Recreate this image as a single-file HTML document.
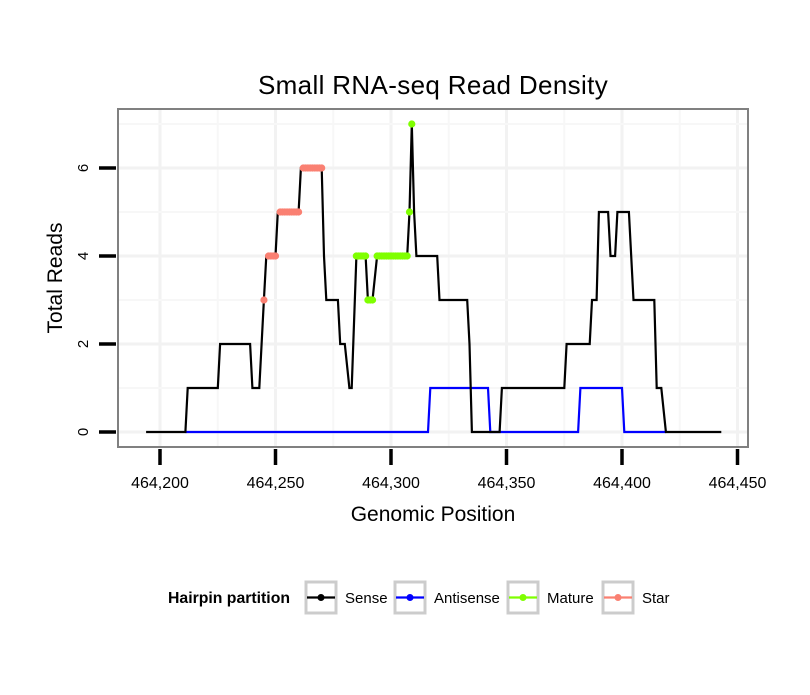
<!DOCTYPE html>
<html><head><meta charset="utf-8"><style>
body{margin:0;background:#fff;font-family:"Liberation Sans",sans-serif}
</style></head><body>
<svg id="chart" width="810" height="690" xmlns="http://www.w3.org/2000/svg" font-family="Liberation Sans, sans-serif">
<rect width="810" height="690" fill="#fff"/>
<text x="433" y="94" text-anchor="middle" font-size="26" letter-spacing="0.35">Small RNA-seq Read Density</text>
<g id="grid"></g>
<g id="series"></g>
<rect x="118" y="109" width="630" height="338" fill="none" stroke="#808080" stroke-width="2"/>
<g id="axes"></g>
<text x="433" y="521" text-anchor="middle" font-size="21">Genomic Position</text>
<text transform="translate(62,278) rotate(-90)" text-anchor="middle" font-size="21">Total Reads</text>
<g id="legend">
<text x="168" y="603" font-size="15.8" font-weight="bold">Hairpin partition</text>
</g>
</svg>
<script>
const xTicks=[464200,464250,464300,464350,464400,464450];
const yTicks=[0,2,4,6];
const senseX=[464194,464211,464212,464225,464226,464239,464240,464243,464245,464246,464250,464251,464260,464261,464270,464271,464272,464277,464278,464280,464282,464283,464285,464289,464290,464292,464294,464307,464308,464309,464310,464311,464320,464321,464333,464334,464335,464347,464348,464375,464376,464386,464387,464389,464390,464394,464395,464397,464398,464403,464405,464414,464415,464417,464419,464443];
const senseY=[0,0,1,1,2,2,1,1,3,4,4,5,5,6,6,4,3,3,2,2,1,1,4,4,3,3,4,4,5,7,5,4,4,3,3,2,0,0,1,1,2,2,3,3,5,5,4,4,5,5,3,3,1,1,0,0];
const antiX=[464211,464316,464317,464342,464343,464381,464382,464400,464401,464419];
const antiY=[0,0,1,1,0,0,1,1,0,0];
const matureX=[464285,464286,464287,464288,464289,464290,464291,464292,464294,464295,464296,464297,464298,464299,464300,464301,464302,464303,464304,464305,464306,464307,464308,464309];
const matureY=[4,4,4,4,4,3,3,3,4,4,4,4,4,4,4,4,4,4,4,4,4,4,5,7];
const starX=[464245,464247,464248,464249,464250,464252,464253,464254,464255,464256,464257,464258,464259,464260,464262,464263,464264,464265,464266,464267,464268,464269,464270];
const starY=[3,4,4,4,4,5,5,5,5,5,5,5,5,5,6,6,6,6,6,6,6,6,6];
const legendLabels=["Sense","Antisense","Mature","Star"];
const legendColors=["#000000","#0000ff","#7fff00","#fa8072"];

const NS="http://www.w3.org/2000/svg";
const sx=v=>160+(v-464200)*2.31;
const sy=v=>432-v*44;
function mk(tag,attrs,parent){const e=document.createElementNS(NS,tag);for(const k in attrs)e.setAttribute(k,attrs[k]);parent.appendChild(e);return e;}
const grid=document.getElementById('grid'),series=document.getElementById('series'),axes=document.getElementById('axes'),legend=document.getElementById('legend');
for(let i=0;i<xTicks.length;i++){
  const x=sx(xTicks[i]);
  if(x>118&&x<748){const g=mk('line',{x1:x,x2:x,y1:110,y2:446,stroke:'#f2f2f2','stroke-width':3},grid);
  
  }
  const mx=sx(xTicks[i]+25);
  if(mx>118&&mx<748){const g=mk('line',{x1:mx,x2:mx,y1:110,y2:446,stroke:'#f7f7f7','stroke-width':2},grid);
  
  }
  const m2=sx(xTicks[i]-25);
  if(i==0&&m2>118){const g=mk('line',{x1:m2,x2:m2,y1:110,y2:446,stroke:'#f7f7f7','stroke-width':2},grid);
  
  }
}
for(let v=0;v<=7;v++){
  const y=sy(v);
  const g=mk('line',{x1:119,x2:747,y1:y,y2:y,stroke:v%2==0?'#f2f2f2':'#f7f7f7','stroke-width':v%2==0?3:2},grid);
  
  
}
function line(xs,ys,color,name){
  const d=xs.map((x,i)=>(i?'L':'M')+sx(x).toFixed(1)+','+sy(ys[i]).toFixed(1)).join('');
  const p=mk('path',{d:d,fill:'none',stroke:color,'stroke-width':2.2,'stroke-linejoin':'miter'},series);
  
  
}
line(antiX,antiY,'#0000ff','antisense-line');
line(senseX,senseY,'#000000','sense-line');
function pts(xs,ys,color,name){
  for(let i=0;i<xs.length;i++){
    const c=mk('circle',{cx:sx(xs[i]),cy:sy(ys[i]),r:3.6,fill:color},series);
    
    
  }
}
pts(starX,starY,'#fa8072','star-point');
pts(matureX,matureY,'#7fff00','mature-point');
for(const t of xTicks){
  const x=sx(t);
  const l=mk('line',{x1:x,x2:x,y1:449,y2:465,stroke:'#000','stroke-width':3.5},axes);
  
  
  const tx=mk('text',{x:x,y:488,'text-anchor':'middle','font-size':16},axes);
  tx.textContent=t.toLocaleString('en-US');
  
  
}
for(const t of yTicks){
  const y=sy(t);
  const l=mk('line',{x1:99,x2:116,y1:y,y2:y,stroke:'#000','stroke-width':3.5},axes);
  
  
  const tx=mk('text',{transform:`translate(88,${y}) rotate(-90)`,'text-anchor':'middle','font-size':15},axes);
  tx.textContent=String(t);
  
  
}
const boxX=[306,395,508,603];
for(let i=0;i<legendLabels.length;i++){
  const g=mk('g',{},legend);
  
  
  mk('rect',{x:boxX[i],y:582,width:30,height:31,fill:'#fff',stroke:'#cccccc','stroke-width':3},g);
  mk('line',{x1:boxX[i]+1,x2:boxX[i]+29,y1:597.5,y2:597.5,stroke:legendColors[i],'stroke-width':2.2},g);
  mk('circle',{cx:boxX[i]+15,cy:597.5,r:3.5,fill:legendColors[i]},g);
  const t=mk('text',{x:boxX[i]+39,y:603,'font-size':15},g);
  t.textContent=legendLabels[i];
}
</script>
</body></html>
